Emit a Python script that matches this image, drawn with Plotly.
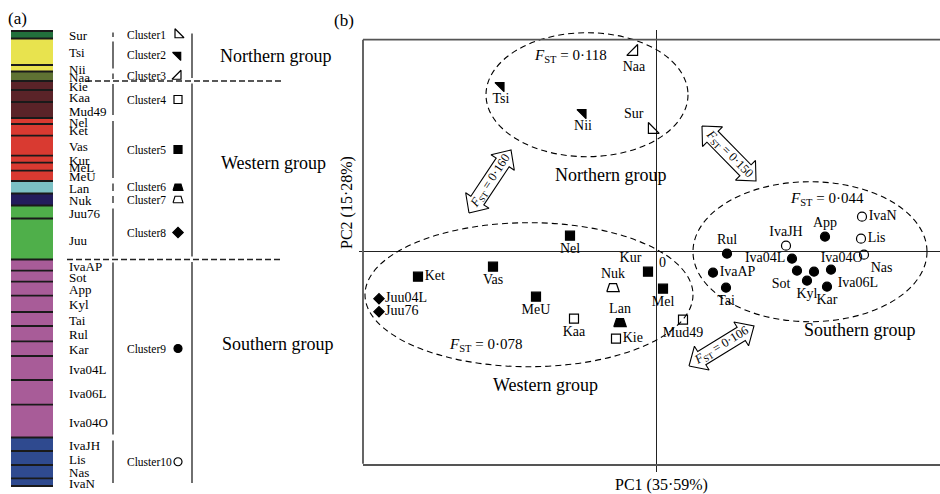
import math
import plotly.graph_objects as go

W, H = 940, 494
SERIF = "Liberation Serif"

# ---------------- data: panel (a) structure bar ----------------
POPS_A = ["Sur", "Tsi", "Nii", "Naa", "Kie", "Kaa", "Mud49", "Nel", "Ket", "Vas", "Kur",
          "MeL", "MeU", "Lan", "Nuk", "Juu76", "Juu", "IvaAP", "Sot", "App", "Kyl", "Tai",
          "Rul", "Kar", "Iva04L", "Iva06L", "Iva04O", "IvaJH", "Lis", "Nas", "IvaN"]
SEG_SIZE = [7.5, 26.5, 6.5, 9.5, 9, 12, 16, 6, 11.7, 20, 7, 8, 10.3, 12.5, 12, 13, 41,
            11.2, 11, 14, 16.3, 14, 15.3, 14.7, 24, 24.7, 32.8, 13.5, 14, 13.3, 7.7]
POP_CLUSTER = [1, 2, 2, 3, 4, 4, 4, 5, 5, 5, 5, 5, 5, 6, 7, 8, 8,
               9, 9, 9, 9, 9, 9, 9, 9, 9, 9, 10, 10, 10, 10]
CLUSTER_NAMES = ["Cluster1", "Cluster2", "Cluster3", "Cluster4", "Cluster5",
                 "Cluster6", "Cluster7", "Cluster8", "Cluster9", "Cluster10"]
GROUP_NAMES = ["Northern group", "Western group", "Southern group"]
CLUSTER_GROUP = [0, 0, 0, 1, 1, 1, 1, 1, 2, 2]

# ---------------- data: panel (b) PCA ----------------
POPS_B = ["Sur", "Tsi", "Nii", "Naa", "Kie", "Kaa", "Mud49", "Nel", "Ket", "Vas", "Kur",
          "Mel", "MeU", "Lan", "Nuk", "Juu76", "Juu04L", "IvaAP", "Sot", "App", "Kyl", "Tai",
          "Rul", "Kar", "Iva04L", "Iva06L", "Iva04O", "IvaJH", "Lis", "Nas", "IvaN"]
PC1 = [-0.04, -1.55, -0.73, -0.22, -0.40, -0.82, 0.27, -0.86, -2.38, -1.63, -0.08,
       0.07, -1.20, -0.36, -0.43, -2.77, -2.77, 0.57, 1.41, 1.69, 1.51, 0.70,
       0.71, 1.71, 1.36, 1.75, 1.58, 1.30, 2.05, 2.08, 2.06]
PC2 = [1.22, 1.66, 1.39, 2.00, -0.87, -0.67, -0.68, 0.16, -0.25, -0.15, -0.20,
       -0.37, -0.45, -0.71, -0.36, -0.60, -0.47, -0.21, -0.19, 0.15, -0.29, -0.36,
       -0.02, -0.35, -0.07, -0.18, -0.20, 0.06, 0.13, -0.03, 0.35]
PC1_TITLE = "PC1 (35·59%)"
PC2_TITLE = "PC2 (15·28%)"
WITHIN_FST = ["0·118", "0·078", "0·044"]          # Northern, Western, Southern
BETWEEN_FST = ["0·160", "0·150", "0·106"]         # N-W, N-S, W-S

# ---------------- styles ----------------
CLUSTER_COLOR = ["#22703c", "#e8e34e", "#5f7233", "#5a2328", "#d93a31",
                 "#7cc1c5", "#231d5c", "#4faf4a", "#a85c98", "#2f4a8f"]
CLUSTER_SYMBOL = ["triangle-sw-open", "triangle-ne", "triangle-se-open", "square-open",
                  "square", "trap", "trap-open", "diamond", "circle", "circle-open"]
SYMBOL_SIZE_B = {"triangle-sw-open": 12, "triangle-ne": 10, "triangle-se-open": 12,
                 "square-open": 9, "square": 9, "diamond": 8, "circle": 9, "circle-open": 9}
SYMBOL_SIZE_A = {"triangle-sw-open": 10, "triangle-ne": 9, "triangle-se-open": 10,
                 "square-open": 8, "square": 8, "diamond": 8, "circle": 8, "circle-open": 8}
LABEL_POS = ["top left", "bottom center", "bottom center", "bottom center", "middle right",
             "bottom center", "bottom center", "bottom center", "middle right", "bottom center",
             "top left", "bottom center", "bottom center", "top center", "top center",
             "middle right", "middle right", "middle right", "bottom left", "top center",
             "bottom center", "bottom center", "top center", "bottom center", "middle left",
             "bottom right", "top right", "top center", "middle right", "bottom right",
             "middle right"]
# ellipses (PC units): cx, cy, rx, ry  for Northern, Western, Southern
ELLIPSES = [(-0.69, 1.57, 1.01, 0.62), (-1.27, -0.43, 1.64, 0.72), (1.54, 0.00, 1.17, 0.70)]
WITHIN_FST_XY = [(-0.86, 1.957), (-1.71, -0.933), (1.71, 0.527)]
GROUP_LABEL_XY_B = [(-0.46, 0.767), (-1.11, -1.333), (2.04, -0.783)]
ARROWS = [(-1.87, 0.387, -1.45, 1.017), (0.46, 1.257, 1.00, 0.707), (0.33, -1.143, 0.98, -0.743)]
GROUP_LABEL_PX_A = [(275, 56), (273, 163), (278, 344)]

BOX_L, BOX_T, BOX_B = 363, 39.7, 463.7
ORIG_X, ORIG_Y = 656, 251.7
PX_PER_UNIT = 100.0
DOM_TOP = 30.0

fig = go.Figure()

# ================= panel (a) =================
BAR_TOP = 31.0
starts = []
acc = BAR_TOP
for s in SEG_SIZE:
    starts.append(acc)
    acc += s
bar_bottom = acc
n = len(POPS_A)
fig.add_trace(go.Bar(
    x=[32] * n, y=SEG_SIZE, base=starts, width=42,
    marker=dict(color=[CLUSTER_COLOR[c - 1] for c in POP_CLUSTER], line=dict(width=0)),
    xaxis="x2", yaxis="y2", hoverinfo="skip", showlegend=False))

sx, sy = [], []
for b in starts + [bar_bottom]:
    sx += [11, 53, None]
    sy += [b, b, None]
fig.add_trace(go.Scatter(x=sx, y=sy, mode="lines", line=dict(color="#1a1a1a", width=1.8),
                         xaxis="x2", yaxis="y2", hoverinfo="skip", showlegend=False))

annotations = []
for name, st, sz in zip(POPS_A, starts, SEG_SIZE):
    annotations.append(dict(x=67, y=st + sz / 2 + 1, xref="x2", yref="y2", text=name,
                            showarrow=False, xanchor="left", yanchor="middle",
                            font=dict(family=SERIF, size=13, color="black")))

# cluster spans
cl_top, cl_bot = {}, {}
for c, st, sz in zip(POP_CLUSTER, starts, SEG_SIZE):
    cl_top[c] = min(cl_top.get(c, 1e9), st)
    cl_bot[c] = max(cl_bot.get(c, -1e9), st + sz)

lx, ly = [], []
for c in range(1, 11):
    t, b = cl_top[c], cl_bot[c]
    ins = min(3.0, (b - t) * 0.2)
    lx += [113, 113, None]
    ly += [t + ins, b - ins, None]
# group spans
g_top, g_bot = {}, {}
for c in range(1, 11):
    g = CLUSTER_GROUP[c - 1]
    g_top[g] = min(g_top.get(g, 1e9), cl_top[c])
    g_bot[g] = max(g_bot.get(g, -1e9), cl_bot[c])
for g in range(3):
    lx += [192, 192, None]
    ly += [g_top[g] + 2.5, g_bot[g] - 3, None]
fig.add_trace(go.Scatter(x=lx, y=ly, mode="lines", line=dict(color="#222", width=1.3),
                         xaxis="x2", yaxis="y2", hoverinfo="skip", showlegend=False))
# dashed group boundaries
dx_, dy_ = [], []
for g, x_start in zip(range(1, 3), [86, 67]):
    dx_ += [x_start, 283, None]
    dy_ += [g_top[g], g_top[g], None]
fig.add_trace(go.Scatter(x=dx_, y=dy_, mode="lines",
                         line=dict(color="#222", width=1.3, dash="6px,3px"),
                         xaxis="x2", yaxis="y2", hoverinfo="skip", showlegend=False))

for c in range(1, 11):
    cy = (cl_top[c] + cl_bot[c]) / 2
    annotations.append(dict(x=125, y=cy, xref="x2", yref="y2", text=CLUSTER_NAMES[c - 1],
                            showarrow=False, xanchor="left", yanchor="middle",
                            font=dict(family=SERIF, size=11.5, color="black")))


def trapezoid(cx, cy, kx, ky, wb=12.5, wt=7.0, h=8.0):
    offs = [(-wb / 2, h / 2), (wb / 2, h / 2), (wt / 2, -h / 2), (-wt / 2, -h / 2), (-wb / 2, h / 2)]
    return [cx + ox * kx for ox, oy in offs], [cy + oy * ky for ox, oy in offs]


# cluster legend symbols (one trace each)
for c in range(1, 11):
    cy = (cl_top[c] + cl_bot[c]) / 2
    sym = CLUSTER_SYMBOL[c - 1]
    if sym.startswith("trap"):
        xs, ys = trapezoid(178, cy, 1.0, 1.0, wb=10, wt=6, h=6.5)
        fig.add_trace(go.Scatter(x=xs, y=ys, mode="lines", fill="toself",
                                 fillcolor="black" if sym == "trap" else "white",
                                 line=dict(color="black", width=1.1),
                                 xaxis="x2", yaxis="y2", hoverinfo="skip", showlegend=False))
    else:
        fig.add_trace(go.Scatter(x=[178], y=[cy], mode="markers",
                                 marker=dict(symbol=sym, size=SYMBOL_SIZE_A[sym], color="#000000",
                                             opacity=1,
                                             line=dict(color="#000000", width=1.2)),
                                 xaxis="x2", yaxis="y2", hoverinfo="skip", showlegend=False))

for g, (gx, gy) in enumerate(GROUP_LABEL_PX_A):
    annotations.append(dict(x=gx, y=gy, xref="x2", yref="y2", text=GROUP_NAMES[g],
                            showarrow=False, xanchor="center", yanchor="middle",
                            font=dict(family=SERIF, size=18, color="black")))

# ================= panel (b) =================
shapes = []
for (cx, cy, rx, ry) in ELLIPSES:
    shapes.append(dict(type="circle", xref="x", yref="y", x0=cx - rx, x1=cx + rx,
                       y0=cy - ry, y1=cy + ry,
                       line=dict(color="black", width=1.1, dash="6px,4px"), layer="above"))

# box: left and top borders
shapes.append(dict(type="line", xref="paper", yref="paper", x0=BOX_L / W, x1=BOX_L / W,
                   y0=1 - BOX_B / H, y1=1 - BOX_T / H, line=dict(color="#555", width=1.8)))
shapes.append(dict(type="line", xref="paper", yref="paper", x0=BOX_L / W, x1=1.0,
                   y0=1 - BOX_T / H, y1=1 - BOX_T / H, line=dict(color="#555", width=1.8)))

# arrows
for (x0, y0, x1, y1), lab in zip(ARROWS, BETWEEN_FST):
    ddx, ddy = x1 - x0, y1 - y0
    L = math.hypot(ddx, ddy)
    ux, uy = ddx / L, ddy / L
    nx, ny = -uy, ux
    s_, hw, hl = 0.078, 0.14, 0.15

    def P(a, b):
        return (x0 + ux * a + nx * b, y0 + uy * a + ny * b)

    pts = [P(0, 0), P(hl, hw), P(hl, s_), P(L - hl, s_), P(L - hl, hw), P(L, 0),
           P(L - hl, -hw), P(L - hl, -s_), P(hl, -s_), P(hl, -hw), P(0, 0)]
    fig.add_trace(go.Scatter(x=[p[0] for p in pts], y=[p[1] for p in pts], mode="lines",
                             fill="toself", fillcolor="white",
                             line=dict(color="black", width=1.1),
                             hoverinfo="skip", showlegend=False))
    ang = math.degrees(math.atan2(-ddy, ddx))
    annotations.append(dict(x=(x0 + x1) / 2, y=(y0 + y1) / 2, xref="x", yref="y",
                            text="<i>F</i><sub>ST</sub> = " + lab, textangle=ang,
                            showarrow=False, xanchor="center", yanchor="middle",
                            font=dict(family=SERIF, size=12.5, color="black")))

# points by cluster
k = 1.0 / PX_PER_UNIT
for c in range(1, 11):
    idx = [i for i, cc in enumerate(POP_CLUSTER) if cc == c]
    sym = CLUSTER_SYMBOL[c - 1]
    xs = [PC1[i] for i in idx]
    ys = [PC2[i] for i in idx]
    txt = [POPS_B[i] for i in idx]
    pos = [LABEL_POS[i] for i in idx]
    if sym.startswith("trap"):
        for x, y in zip(xs, ys):
            tx, ty = trapezoid(x, y, k, -k)
            fig.add_trace(go.Scatter(x=tx, y=ty, mode="lines", fill="toself",
                                     fillcolor="black" if sym == "trap" else "white",
                                     line=dict(color="black", width=1.2),
                                     hoverinfo="skip", showlegend=False))
        fig.add_trace(go.Scatter(x=xs, y=ys, mode="markers+text", text=txt, textposition=pos,
                                 marker=dict(size=9, color="rgba(0,0,0,0)"),
                                 textfont=dict(family=SERIF, size=14, color="black"),
                                 hoverinfo="skip", showlegend=False, cliponaxis=False))
    else:
        fig.add_trace(go.Scatter(x=xs, y=ys, mode="markers+text", text=txt, textposition=pos,
                                 marker=dict(symbol=sym, size=SYMBOL_SIZE_B[sym], color="black",
                                             line=dict(color="black", width=1.2)),
                                 textfont=dict(family=SERIF, size=14, color="black"),
                                 hoverinfo="skip", showlegend=False, cliponaxis=False))

for g in range(3):
    fx, fy = WITHIN_FST_XY[g]
    annotations.append(dict(x=fx, y=fy, xref="x", yref="y",
                            text="<i>F</i><sub>ST</sub> = " + WITHIN_FST[g],
                            showarrow=False, xanchor="center", yanchor="middle",
                            font=dict(family=SERIF, size=15, color="black")))
    gx, gy = GROUP_LABEL_XY_B[g]
    annotations.append(dict(x=gx, y=gy, xref="x", yref="y", text=GROUP_NAMES[g],
                            showarrow=False, xanchor="center", yanchor="middle",
                            font=dict(family=SERIF, size=18, color="black")))

annotations.append(dict(x=0.012, y=-0.103, xref="x", yref="y", text="0", showarrow=False,
                        xanchor="left", yanchor="middle",
                        font=dict(family=SERIF, size=14, color="black")))
annotations.append(dict(x=661 / W, y=1 - 485 / H, xref="paper", yref="paper", text=PC1_TITLE,
                        showarrow=False, xanchor="center", yanchor="middle",
                        font=dict(family=SERIF, size=16, color="black")))
annotations.append(dict(x=347 / W, y=1 - 203 / H, xref="paper", yref="paper", text=PC2_TITLE,
                        textangle=-90, showarrow=False, xanchor="center", yanchor="middle",
                        font=dict(family=SERIF, size=16, color="black")))
annotations.append(dict(x=17 / W, y=1 - 19 / H, xref="paper", yref="paper", text="(a)",
                        showarrow=False, xanchor="center", yanchor="middle",
                        font=dict(family=SERIF, size=17, color="black")))
annotations.append(dict(x=344 / W, y=1 - 20 / H, xref="paper", yref="paper", text="(b)",
                        showarrow=False, xanchor="center", yanchor="middle",
                        font=dict(family=SERIF, size=17, color="black")))

x_lo = (BOX_L - ORIG_X) / PX_PER_UNIT
x_hi = (W - ORIG_X) / PX_PER_UNIT
y_lo = (ORIG_Y - BOX_B) / PX_PER_UNIT
y_hi = (ORIG_Y - DOM_TOP) / PX_PER_UNIT

fig.update_layout(
    width=W, height=H, margin=dict(l=0, r=0, t=0, b=0),
    paper_bgcolor="white", plot_bgcolor="white", barmode="overlay",
    showlegend=False, annotations=annotations, shapes=shapes,
    xaxis=dict(domain=[BOX_L / W, 1.0], range=[x_lo, x_hi], anchor="y",
               showline=True, linecolor="#555", linewidth=1.8, mirror=False,
               showgrid=False, zeroline=True, zerolinecolor="#222", zerolinewidth=1.3,
               tickvals=[0], ticks="outside", ticklen=6, tickcolor="#222", tickwidth=1.3,
               showticklabels=False, fixedrange=True),
    yaxis=dict(domain=[1 - BOX_B / H, 1 - DOM_TOP / H], range=[y_lo, y_hi], anchor="x",
               showline=False, showgrid=False, zeroline=True, zerolinecolor="#222",
               zerolinewidth=1.3, tickvals=[0], ticks="outside", ticklen=3,
               tickcolor="#222", tickwidth=1.3, showticklabels=False, fixedrange=True),
    xaxis2=dict(domain=[0, 340 / W], range=[0, 340], anchor="y2", visible=False,
                fixedrange=True),
    yaxis2=dict(domain=[0, 1], range=[H, 0], anchor="x2", visible=False, fixedrange=True),
)

fig.write_html("out.html")
